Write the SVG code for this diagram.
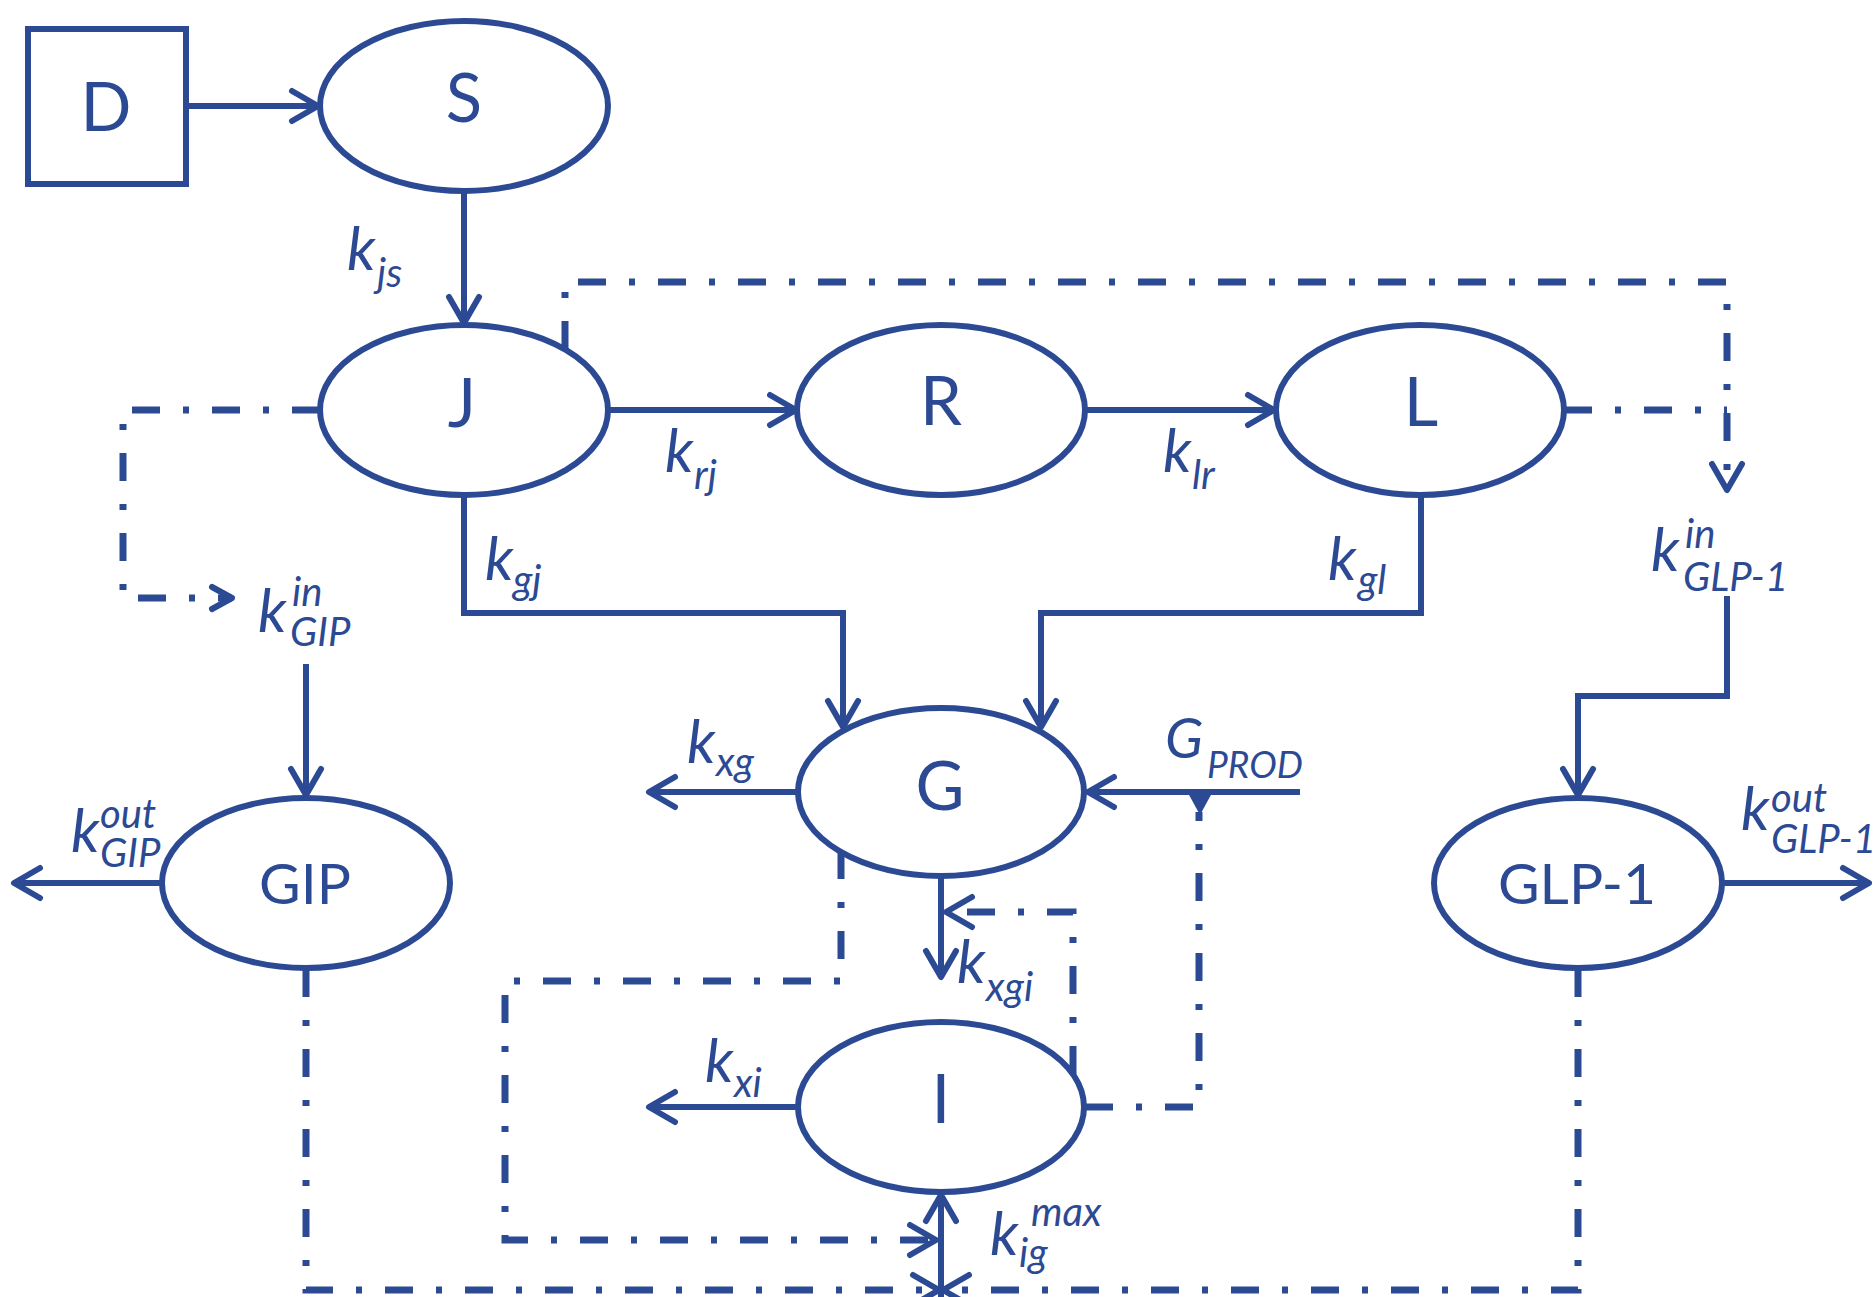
<svg xmlns="http://www.w3.org/2000/svg" width="1876" height="1297" viewBox="0 0 1876 1297">
<style>
.shape{fill:#fff;stroke:#2C4A94;stroke-width:6}
.ln{fill:none;stroke:#2C4A94;stroke-width:6}
.dd{fill:none;stroke:#2C4A94;stroke-width:7;stroke-dasharray:28 23 6 23}
.nt{font-family:Lato,"Liberation Sans",sans-serif;font-size:67px;fill:#2C4A94;text-anchor:middle}
.nt2{font-family:Lato,"Liberation Sans",sans-serif;font-size:57px;fill:#2C4A94;text-anchor:middle}
.k{font-family:Lato,"Liberation Sans",sans-serif;font-style:italic;font-size:60px;fill:#2C4A94}
.s{font-family:Lato,"Liberation Sans",sans-serif;font-style:italic;font-size:40px;fill:#2C4A94}
</style>
<defs>
<marker id="arr" markerUnits="userSpaceOnUse" orient="auto" refX="0" refY="0" markerWidth="40" markerHeight="40" overflow="visible"><path d="M-26,-15 L0,0 L-26,15" fill="none" stroke="#2C4A94" stroke-width="6" stroke-linecap="round" stroke-linejoin="round"/></marker>
<marker id="arrS" markerUnits="userSpaceOnUse" orient="auto" refX="0" refY="0" markerWidth="40" markerHeight="40" overflow="visible"><path d="M-20,-11 L0,0 L-20,11" fill="none" stroke="#2C4A94" stroke-width="6" stroke-linecap="round" stroke-linejoin="round"/></marker>
</defs>
<rect width="1876" height="1297" fill="#fff"/>
<g id="connectors">
<path class="ln" d="M186,106 L318,106" marker-end="url(#arr)"/>
<path class="ln" d="M464,191 L464,323" marker-end="url(#arr)"/>
<path class="ln" d="M608,410 L796,410" marker-end="url(#arr)"/>
<path class="ln" d="M1086,410 L1274,410" marker-end="url(#arr)"/>
<path class="ln" d="M464,495 L464,613 L843,613 L843,727" marker-end="url(#arr)"/>
<path class="ln" d="M1421,495 L1421,613 L1041,613 L1041,727" marker-end="url(#arr)"/>
<path class="ln" d="M306,664 L306,795" marker-end="url(#arr)"/>
<path class="ln" d="M161,883 L14,883" marker-end="url(#arr)"/>
<path class="ln" d="M1727,596 L1727,696 L1578,696 L1578,795" marker-end="url(#arr)"/>
<path class="ln" d="M1721,883 L1869,883" marker-end="url(#arr)"/>
<path class="ln" d="M798,792 L649,792" marker-end="url(#arr)"/>
<path class="ln" d="M1300,792 L1088,792" marker-end="url(#arr)"/>
<path class="ln" d="M941,876 L941,977" marker-end="url(#arr)"/>
<path class="ln" d="M798,1107 L649,1107" marker-end="url(#arr)"/>
<path class="ln" d="M941,1300 L941,1195" marker-end="url(#arr)"/>
<path class="dd" d="M565,349 L565,282 L1727,282 L1727,490" marker-end="url(#arr)"/>
<path class="dd" d="M1564,410 L1727,410"/>
<path class="dd" d="M320,410 L123,410 L123,598 L232,598" marker-end="url(#arrS)"/>
<path class="dd" d="M306,969 L306,1290 L939,1290" marker-end="url(#arr)"/>
<path class="dd" d="M1578,969 L1578,1290 L943,1290" marker-end="url(#arr)"/>
<path class="dd" d="M841,851 L841,981 L505,981 L505,1240 L936,1240" marker-end="url(#arr)"/>
<path class="dd" d="M1073,1074 L1073,912 L946,912" marker-end="url(#arr)"/>
<path class="dd" d="M1085,1107 L1199,1107 L1199,812"/>
<path d="M1188,793 L1212,793 L1200,815 Z" fill="#2C4A94"/>
</g>
<g id="node-D"><rect class="shape" x="28" y="29" width="158" height="155"/><text class="nt" x="106" y="131">D</text></g>
<g id="node-S"><ellipse class="shape" cx="464" cy="106" rx="144" ry="85"/><text class="nt" x="464" y="122">S</text></g>
<g id="node-J"><ellipse class="shape" cx="464" cy="410" rx="144" ry="85"/><text class="nt" x="462" y="427">J</text></g>
<g id="node-R"><ellipse class="shape" cx="941" cy="410" rx="144" ry="85"/><text class="nt" x="941" y="425">R</text></g>
<g id="node-L"><ellipse class="shape" cx="1420" cy="410" rx="144" ry="85"/><text class="nt" x="1421" y="426">L</text></g>
<g id="node-G"><ellipse class="shape" cx="941" cy="792" rx="143" ry="84"/><text class="nt" x="940" y="810">G</text></g>
<g id="node-I"><ellipse class="shape" cx="941" cy="1107" rx="143" ry="85"/><text class="nt" x="941" y="1123">I</text></g>
<g id="node-GIP"><ellipse class="shape" cx="306" cy="883" rx="144" ry="85"/><text class="nt2" x="305" y="904">GIP</text></g>
<g id="node-GLP1"><ellipse class="shape" cx="1578" cy="883" rx="144" ry="85"/><text class="nt2" x="1577" y="904">GLP-1</text></g>
<g id="labels">
<text class="k" x="347" y="270">k<tspan class="s" x="377" y="287">js</tspan></text>
<text class="k" x="665" y="472">k<tspan class="s" x="694" y="489">rj</tspan></text>
<text class="k" x="1163" y="472">k<tspan class="s" x="1192" y="489">lr</tspan></text>
<text class="k" x="485" y="580">k<tspan class="s" x="513" y="594">gj</tspan></text>
<text class="k" x="1328" y="580">k<tspan class="s" x="1358" y="594">gl</tspan></text>
<text class="k" x="687" y="763">k<tspan class="s" x="716" y="776">xg</tspan></text>
<text class="k" x="957" y="983">k<tspan class="s" x="986" y="1001">xgi</tspan></text>
<text class="k" x="705" y="1082">k<tspan class="s" x="734" y="1097">xi</tspan></text>
<text class="k" x="1165" y="758" style="font-size:56px">G<tspan style="font-size:37px" x="1207" y="778">PROD</tspan></text>
<text class="k" x="258" y="632">k</text><text class="s" x="292" y="606">in</text><text class="s" x="290" y="646">GIP</text>
<text class="k" x="1651" y="571">k</text><text class="s" x="1685" y="548">in</text><text class="s" x="1683" y="591">GLP-1</text>
<text class="k" x="71" y="852">k</text><text class="s" x="100" y="828">out</text><text class="s" x="100" y="867">GIP</text>
<text class="k" x="1741" y="830">k</text><text class="s" x="1771" y="812">out</text><text class="s" x="1771" y="853">GLP-1</text>
<text class="k" x="990" y="1255">k</text><text class="s" x="1031" y="1226">max</text><text class="s" x="1019" y="1267">ig</text>
</g>
</svg>
